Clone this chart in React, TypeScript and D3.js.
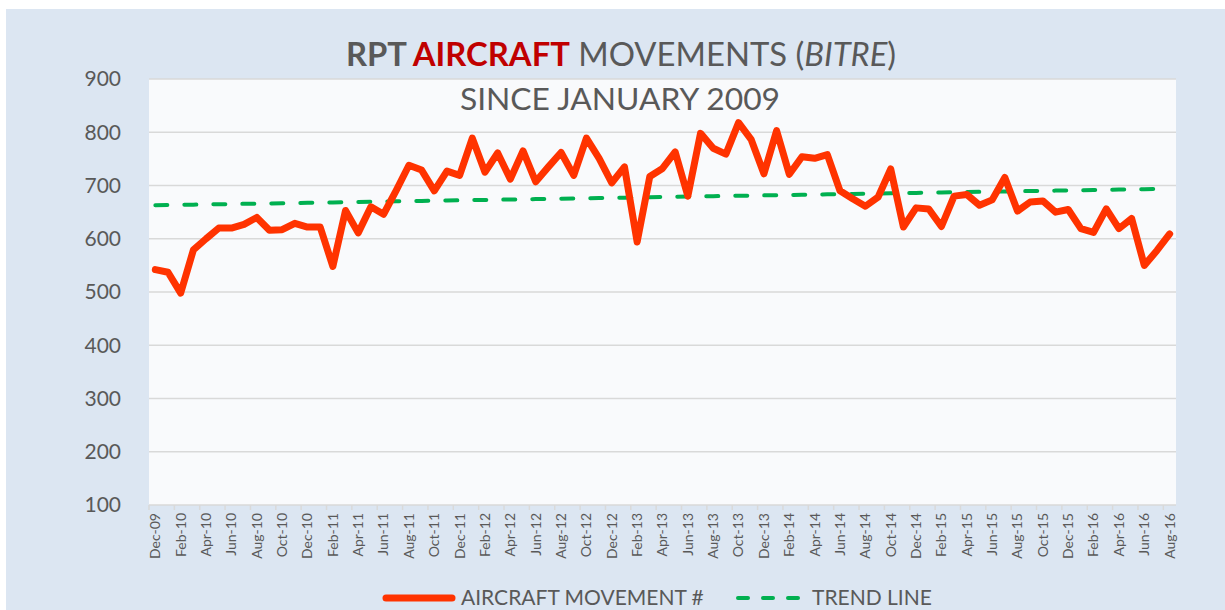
import React from "react";
import * as d3 from "d3";

// monthly categories Dec-09 .. Aug-16
const months: string[] = d3
  .timeMonth.range(new Date(2009, 11, 1), new Date(2016, 8, 1))
  .map((d) => d3.timeFormat("%b-%y")(d));

// RPT aircraft movements
const movements: number[] = [
  542, 537, 498, 579, 600, 620, 620, 627, 640, 616, 617, 629, 622, 622, 548, 653,
  611, 660, 646, 691, 738, 729, 690, 727, 719, 789, 725, 761, 712, 765, 707, 735,
  762, 719, 789, 751, 705, 735, 594, 717, 732, 763, 680, 798, 770, 759, 818, 786,
  722, 803, 721, 754, 751, 758, 690, 675, 661, 678, 731, 622, 658, 656, 623, 680,
  683, 663, 673, 715, 652, 669, 671, 650, 655, 619, 612, 656, 619, 638, 550, 578,
  609,
];

const yTicks = [100, 200, 300, 400, 500, 600, 700, 800, 900];

const W = 1225;
const H = 610;
const plot = { left: 149, right: 1176, top: 79, bottom: 505 };
const grey = "#595959";
const red = "#ff3300";
const green = "#00b050";
const font = "Lato, 'Open Sans', sans-serif";

export default function App() {
  const x = d3.scaleBand<string>().domain(months).range([plot.left, plot.right]).padding(0);
  const bw = x.bandwidth();
  const cx = (i: number) => (x(months[i]) as number) + bw / 2;
  const y = d3.scaleLinear().domain([100, 900]).range([plot.bottom, plot.top]);

  // least-squares linear trend, like Excel's trendline
  const n = movements.length;
  const idx = d3.range(n);
  const mx = d3.mean(idx)!;
  const my = d3.mean(movements)!;
  const slope =
    d3.sum(idx, (i) => (i - mx) * (movements[i] - my)) / d3.sum(idx, (i) => (i - mx) * (i - mx));
  const icpt = my - slope * mx;
  const trend = idx.map((i) => icpt + slope * i);

  const line = d3
    .line<number>()
    .x((_, i) => cx(i))
    .y((v) => y(v));

  return (
    <svg
      width={W}
      height={H}
      style={{ position: "absolute", left: 0, top: 0, display: "block" }}
      fontFamily={font}
    >
      <rect x={0} y={0} width={W} height={H} fill="#ffffff" />
      <rect x={6} y={9} width={W - 6} height={H - 9} fill="#dce6f2" />
      <rect
        x={plot.left}
        y={plot.top}
        width={plot.right - plot.left}
        height={plot.bottom - plot.top}
        fill="#f9fafc"
      />

      {/* gridlines */}
      {yTicks.map((t) => (
        <line
          key={t}
          x1={plot.left}
          x2={plot.right}
          y1={y(t)}
          y2={y(t)}
          stroke="#d9d9d9"
          strokeWidth={1.5}
        />
      ))}

      {/* y labels */}
      {yTicks.map((t) => (
        <text key={t} x={121} y={y(t)} dy="0.35em" textAnchor="end" fontSize={21} fill={grey}>
          {t}
        </text>
      ))}

      {/* x ticks + labels every 2nd month */}
      {months.map((m, i) =>
        i % 2 === 0 ? (
          <g key={m}>
            <line
              x1={x(m)}
              x2={x(m)}
              y1={plot.bottom}
              y2={plot.bottom + 5}
              stroke="#d9d9d9"
              strokeWidth={1.5}
            />
            <text
              transform={`translate(${cx(i)},${plot.bottom + 8}) rotate(-90)`}
              textAnchor="end"
              dy="0.35em"
              fontSize={14}
              fill={grey}
            >
              {m}
            </text>
          </g>
        ) : null
      )}

      {/* trend line */}
      <path
        d={line(trend) as string}
        fill="none"
        stroke={green}
        strokeWidth={4}
        strokeDasharray="12 17"
        strokeLinecap="round"
      />

      {/* series */}
      <path
        d={line(movements) as string}
        fill="none"
        stroke={red}
        strokeWidth={7}
        strokeLinejoin="round"
        strokeLinecap="round"
      />

      {/* title */}
      <text x={621} y={66} textAnchor="middle" fontSize={32.8} fill={grey}>
        <tspan fontWeight="bold">RPT </tspan>
        <tspan fontWeight="bold" fill="#c00000">AIRCRAFT</tspan>
        <tspan> MOVEMENTS (</tspan>
        <tspan fontStyle="italic">BITRE</tspan>
        <tspan>)</tspan>
      </text>
      <text x={620} y={110} textAnchor="middle" fontSize={31.8} fill={grey}>
        SINCE JANUARY 2009
      </text>

      {/* legend */}
      <line x1={386} x2={452} y1={598} y2={598} stroke={red} strokeWidth={7} strokeLinecap="round" />
      <text x={461} y={598} dy="0.35em" fontSize={21} fill={grey}>
        AIRCRAFT MOVEMENT #
      </text>
      <line
        x1={738}
        x2={800}
        y1={598}
        y2={598}
        stroke={green}
        strokeWidth={4}
        strokeDasharray="10 15"
        strokeLinecap="round"
      />
      <text x={812} y={598} dy="0.35em" fontSize={21} fill={grey}>
        TREND LINE
      </text>
    </svg>
  );
}
